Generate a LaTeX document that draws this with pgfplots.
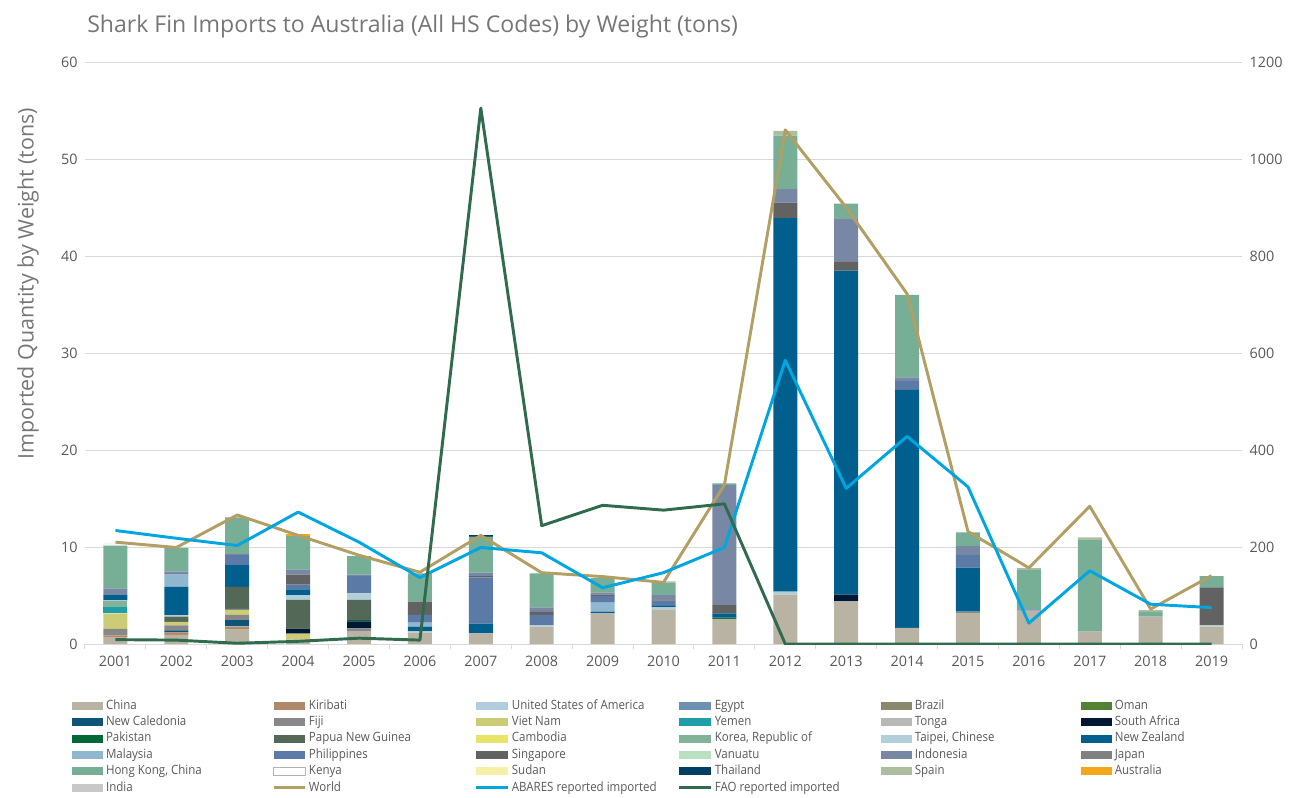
\documentclass[border=0pt]{standalone}
\usepackage{fontspec}
\setmainfont{Open Sans}
\newfontfamily\legfont[FakeStretch=0.9]{Open Sans}
\usepackage{pgfplots}
\usepackage{pgfplotstable}
\pgfplotsset{compat=1.18}

\definecolor{cChina}{HTML}{B9B3A4}
\definecolor{cKiribati}{HTML}{B08A68}
\definecolor{cUSA}{HTML}{B3CDE0}
\definecolor{cEgypt}{HTML}{6D91B0}
\definecolor{cBrazil}{HTML}{898A6B}
\definecolor{cOman}{HTML}{548235}
\definecolor{cNewCal}{HTML}{0E5478}
\definecolor{cFiji}{HTML}{888888}
\definecolor{cVietNam}{HTML}{CCCC77}
\definecolor{cYemen}{HTML}{1E9EA8}
\definecolor{cTonga}{HTML}{B8B8B8}
\definecolor{cSAfrica}{HTML}{001833}
\definecolor{cPakistan}{HTML}{006837}
\definecolor{cPNG}{HTML}{536857}
\definecolor{cCambodia}{HTML}{E8E46A}
\definecolor{cKorea}{HTML}{82B398}
\definecolor{cTaipei}{HTML}{B1CFD9}
\definecolor{cNZ}{HTML}{005F8C}
\definecolor{cMalaysia}{HTML}{8FB8D0}
\definecolor{cPhilippines}{HTML}{5B7BA6}
\definecolor{cSingapore}{HTML}{626262}
\definecolor{cVanuatu}{HTML}{B9E0C0}
\definecolor{cIndonesia}{HTML}{7888A4}
\definecolor{cJapan}{HTML}{808080}
\definecolor{cHK}{HTML}{76AE96}
\definecolor{cKenya}{HTML}{F6F6F6}
\definecolor{cSudan}{HTML}{F5EFA8}
\definecolor{cThailand}{HTML}{003F63}
\definecolor{cSpain}{HTML}{ADBD9F}
\definecolor{cAustralia}{HTML}{F5A71C}
\definecolor{cIndia}{HTML}{C8C8C8}
\definecolor{cWorld}{HTML}{B39F63}
\definecolor{cABARES}{HTML}{00A6E0}
\definecolor{cFAO}{HTML}{2F6B4C}
\definecolor{gridc}{HTML}{D9D9D9}
\definecolor{txt}{HTML}{595959}
\definecolor{ttl}{HTML}{767676}

\pgfplotstableread{
c y01 y02 y03 y04 y05 y06 y07 y08 y09 y10 y11 y12 y13 y14 y15 y16 y17 y18 y19
China       0.65 0.93 1.48 0.48 1.27 1.17 1.10 1.79 3.16 3.57 2.58  5.10  4.40  1.67  3.19 3.44 1.27 2.82 1.79
Kiribati    0.24 0.27 0.31 0    0    0    0    0    0    0    0     0     0     0     0    0    0    0    0
USA         0    0    0.06 0    0    0    0    0    0    0    0     0     0     0     0    0    0    0    0
Egypt       0    0    0    0    0    0    0    0    0    0    0     0     0     0     0    0    0    0    0
Brazil      0    0    0    0    0    0    0    0    0    0    0     0     0     0     0.14 0    0    0    0
Oman        0    0    0    0    0    0    0    0    0    0    0     0     0     0     0    0    0    0    0
NewCal      0    0.20 0.62 0    0    0    0    0    0    0    0     0     0     0     0    0    0    0    0
Fiji        0.66 0.53 0.52 0    0.35 0    0    0    0    0    0     0     0     0     0    0    0    0    0
VietNam     1.61 0.34 0.55 0.58 0    0    0    0    0    0    0     0     0     0     0    0    0    0    0
Yemen       0.65 0    0    0    0    0    0    0    0    0    0     0     0     0     0    0    0    0    0
Tonga       0    0    0    0    0    0    0    0    0    0    0     0     0     0     0    0    0    0    0
SAfrica     0    0    0.11 0.52 0.72 0    0    0    0    0    0     0     0.70  0     0    0    0    0    0
Pakistan    0    0    0    0    0.11 0    0    0    0    0    0.14  0     0     0     0    0    0    0    0
PNG         0    0.55 2.25 2.96 2.09 0    0    0    0    0    0     0     0     0     0    0    0    0    0
Cambodia    0    0    0    0    0    0    0    0    0    0    0     0     0     0     0    0    0    0    0
Korea       0.59 0    0    0    0    0    0    0    0    0    0     0     0     0     0    0    0    0    0
Taipei      0.10 0.15 0    0.51 0.68 0.13 0    0.16 0    0.21 0     0.30  0     0     0    0    0    0    0.13
NZ          0.55 2.93 2.24 0.59 0    0.49 1.00 0    0.17 0.14 0.44  38.5  33.4  24.53 4.54 0    0    0    0
Malaysia    0    1.25 0    0    0    0.41 0    0    0.93 0    0     0     0     0     0    0    0    0    0
Philippines 0    0    1.04 0.47 1.79 0.79 4.77 1.04 0.69 0.55 0     0     0     0.90  1.33 0.13 0    0    0
Singapore   0    0    0    1.04 0    1.37 0.13 0.31 0.15 0.13 0.86  1.60  0.90  0     0    0    0    0    3.92
Vanuatu     0    0    0    0    0    0    0    0    0    0    0     0     0     0     0    0    0    0    0
Indonesia   0.69 0.31 0.08 0.55 0.14 0    0.35 0.48 0.20 0.45 12.37 1.40  4.40  0.40  0.90 0    0    0    0
Japan       0    0    0    0    0    0    0    0    0    0    0     0     0     0     0    0    0    0    0
HK          4.39 2.47 3.80 3.43 1.92 2.93 3.72 3.51 1.50 1.27 0.17  5.50  1.60  8.50  1.40 4.06 9.45 0.48 1.16
Kenya       0.32 0.17 0    0    0    0    0    0    0    0    0     0     0     0     0    0    0    0    0
Sudan       0    0    0    0    0    0    0    0    0    0    0     0     0     0     0    0    0    0    0
Thailand    0    0    0    0    0    0    0.13 0    0    0    0     0     0     0     0    0    0    0    0
Spain       0    0    0    0    0    0    0    0    0    0.13 0     0.50  0     0     0    0.20 0.28 0.20 0
Australia   0    0    0    0.24 0    0    0    0    0    0    0     0     0     0     0    0    0    0    0
India       0    0    0    0    0    0    0    0    0    0    0     0     0     0     0    0    0    0    0
}\raw
\pgfplotstabletranspose[colnames from=c]{\bars}{\raw}

\pgfplotstableread{
x World ABARES FAO
0  10.5  234 9
1  9.95  218 8
2  13.3  203 1.5
3  11.2  272 5.5
4  9.15  210 12
5  7.4   137 8
6  11.2  199 1105
7  7.35  188 244
8  6.95  116 286
9  6.35  147 276
10 16.4  199 289
11 53.0  585 0
12 45.0  321 0
13 36.1  428 0
14 11.6  324 0
15 7.85  43  0
16 14.2  151 0
17 3.6   82  0
18 7.05  75  0
}\lines

\pgfplotsset{
  barleg/.style={legend image code/.code={\fill[##1] (0pt,-3pt) rectangle (23.5pt,3pt);}},
  lineleg/.style={legend image code/.code={\draw[##1] (0pt,0pt) -- (23.5pt,0pt);}},
}
\newcommand\lt[1]{\makebox[122.5pt][l]{#1}}
\newcommand\sbar[3]{\addplot[fill=#2,draw=none,barleg] table[x expr=\coordindex,y=#1]{\bars};\addlegendentry{\lt{#3}}}
\newcommand\tickfont{\fontsize{10.8}{12}\selectfont}

\begin{document}
\begin{tikzpicture}
\useasboundingbox (0,0) rectangle (969.75pt,597.75pt);
\begin{axis}[
  at={(63.75pt,114.75pt)}, anchor=south west,
  scale only axis, width=867.75pt, height=436.5pt,
  xmin=-0.5, xmax=18.5, ymin=0, ymax=60,
  ybar stacked, bar width=18pt,
  axis x line*=bottom, axis y line*=left,
  y axis line style={draw=none},
  x axis line style={gridc, line width=0.75pt},
  xtick={0,...,18},
  xticklabels={2001,2002,2003,2004,2005,2006,2007,2008,2009,2010,2011,2012,2013,2014,2015,2016,2017,2018,2019},
  minor xtick={-0.5,0.5,...,18.5},
  tick align=outside,
  major x tick style={draw=none},
  minor x tick style={gridc, line width=0.75pt},
  minor tick length=3.75pt,
  ytick={0,10,...,60},
  ytick style={draw=none},
  ymajorgrids, grid style={gridc, line width=0.75pt},
  /pgf/number format/assume math mode=true,
  xticklabel style={font=\tickfont, text=txt, yshift=-1pt},
  yticklabel style={font=\tickfont, text=txt, xshift=2.25pt},
  ylabel={Imported Quantity by Weight (tons)},
  ylabel style={at={(axis description cs:-0.0493,0.619)}, anchor=center, font=\fontsize{16.1}{19}\selectfont, text=ttl},
  title={Shark Fin Imports to Australia (All HS Codes) by Weight (tons)},
  title style={at={(axis description cs:0,1)}, anchor=base west, xshift=1.5pt, yshift=16.5pt, inner sep=0pt, font=\fontsize{17.3}{20}\selectfont, text=ttl},
  legend columns=6,
  legend style={at={(-0.0112,-0.0957)}, anchor=north west, draw=none, fill=none,
    inner sep=0pt, outer sep=0pt, column sep=2pt, row sep=3.3pt,
    font=\legfont\fontsize{9.6}{10}\selectfont, text=txt,
    nodes={inner sep=0pt, text height=7pt, text depth=2pt},
    cells={anchor=west}},
]
\sbar{China}{cChina}{China}
\sbar{Kiribati}{cKiribati}{Kiribati}
\sbar{USA}{cUSA}{United States of America}
\sbar{Egypt}{cEgypt}{Egypt}
\sbar{Brazil}{cBrazil}{Brazil}
\sbar{Oman}{cOman}{Oman}
\sbar{NewCal}{cNewCal}{New Caledonia}
\sbar{Fiji}{cFiji}{Fiji}
\sbar{VietNam}{cVietNam}{Viet Nam}
\sbar{Yemen}{cYemen}{Yemen}
\sbar{Tonga}{cTonga}{Tonga}
\sbar{SAfrica}{cSAfrica}{South Africa}
\sbar{Pakistan}{cPakistan}{Pakistan}
\sbar{PNG}{cPNG}{Papua New Guinea}
\sbar{Cambodia}{cCambodia}{Cambodia}
\sbar{Korea}{cKorea}{Korea, Republic of}
\sbar{Taipei}{cTaipei}{Taipei, Chinese}
\sbar{NZ}{cNZ}{New Zealand}
\sbar{Malaysia}{cMalaysia}{Malaysia}
\sbar{Philippines}{cPhilippines}{Philippines}
\sbar{Singapore}{cSingapore}{Singapore}
\sbar{Vanuatu}{cVanuatu}{Vanuatu}
\sbar{Indonesia}{cIndonesia}{Indonesia}
\sbar{Japan}{cJapan}{Japan}
\sbar{HK}{cHK}{Hong Kong, China}
\addplot[fill=cKenya,draw=none,legend image code/.code={\draw[fill=white,draw=black!30,line width=0.5pt] (0pt,-3pt) rectangle (23.5pt,3pt);}] table[x expr=\coordindex,y=Kenya]{\bars};
\addlegendentry{\lt{Kenya}}
\sbar{Sudan}{cSudan}{Sudan}
\sbar{Thailand}{cThailand}{Thailand}
\sbar{Spain}{cSpain}{Spain}
\sbar{Australia}{cAustralia}{Australia}
\sbar{India}{cIndia}{India}
\addlegendimage{sharp plot, draw=cWorld, line width=2.2pt, lineleg}
\addlegendentry{\lt{World}}
\addlegendimage{sharp plot, draw=cABARES, line width=2.2pt, lineleg}
\addlegendentry{\lt{ABARES reported imported}}
\addlegendimage{sharp plot, draw=cFAO, line width=2.2pt, lineleg}
\addlegendentry{\lt{FAO reported imported}}
\end{axis}
\begin{axis}[
  at={(63.75pt,114.75pt)}, anchor=south west,
  scale only axis, width=867.75pt, height=436.5pt,
  xmin=-0.5, xmax=18.5, ymin=0, ymax=1200,
  axis x line=none, axis y line*=right,
  y axis line style={draw=none},
  ytick={0,200,...,1200}, ytick style={draw=none},
  /pgf/number format/assume math mode=true,
  /pgf/number format/1000 sep={},
  yticklabel style={font=\tickfont, text=txt, xshift=2.25pt},
]
\addplot[sharp plot, draw=cWorld, line width=2.2pt, line join=round] table[x=x, y expr=\thisrow{World}*20]{\lines};
\addplot[sharp plot, draw=cABARES, line width=2.2pt, line join=round] table[x=x, y=ABARES]{\lines};
\addplot[sharp plot, draw=cFAO, line width=2.2pt, line join=round] table[x=x, y=FAO]{\lines};
\end{axis}
\end{tikzpicture}
\end{document}
